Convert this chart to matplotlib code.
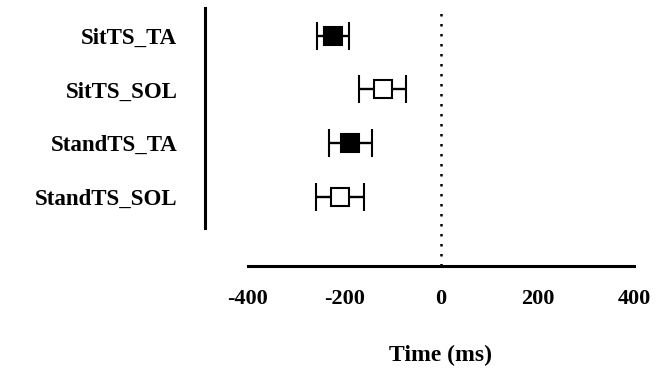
import matplotlib.pyplot as plt
import numpy as np

labels = ["SitTS_TA", "SitTS_SOL", "StandTS_TA", "StandTS_SOL"]
means = [-224, -121, -188, -209]
errors = [33, 49, 45, 50]
filled = [True, False, True, False]

plt.rcParams['font.family'] = ['Liberation Serif', 'DejaVu Serif']

fig = plt.figure(figsize=(6.57, 3.76), dpi=100)
ax = fig.add_axes([0.312, 0.293, 0.653, 0.686])

y_pos = np.arange(1, len(labels) + 1)
for y, m, e, f in zip(y_pos, means, errors, filled):
    ax.errorbar(m, y, xerr=e, fmt='s', markersize=13,
                markerfacecolor='black' if f else 'white',
                markeredgecolor='black', markeredgewidth=1.5,
                ecolor='black', elinewidth=1.7, capsize=10, capthick=1.7,
                zorder=3)

ax.axvline(0, color='black', linestyle=(0, (1, 3)), linewidth=1.8, zorder=1)

ax.set_xlim(-489, 400)
ax.set_ylim(5.285, 0.48)
ax.set_xticks([-400, -200, 0, 200, 400])
ax.set_xticklabels(['-400', '-200', '0', '200', '400'], fontsize=16, fontweight='bold')
ax.set_yticks(y_pos)
ax.set_yticklabels(labels, fontsize=16.5, fontweight='bold')
ax.tick_params(axis='x', length=0, pad=17)
ax.tick_params(axis='y', length=0, pad=20)

ax.spines['top'].set_visible(False)
ax.spines['right'].set_visible(False)
ax.spines['left'].set_linewidth(2.2)
ax.spines['bottom'].set_linewidth(2.2)
ax.spines['left'].set_bounds(0.48, 4.58)
ax.spines['bottom'].set_bounds(-400, 400)

ax.set_xlabel('Time (ms)', fontsize=17, fontweight='bold')
ax.xaxis.set_label_coords(0.55, -0.305)

plt.savefig('out.png', dpi=100)
